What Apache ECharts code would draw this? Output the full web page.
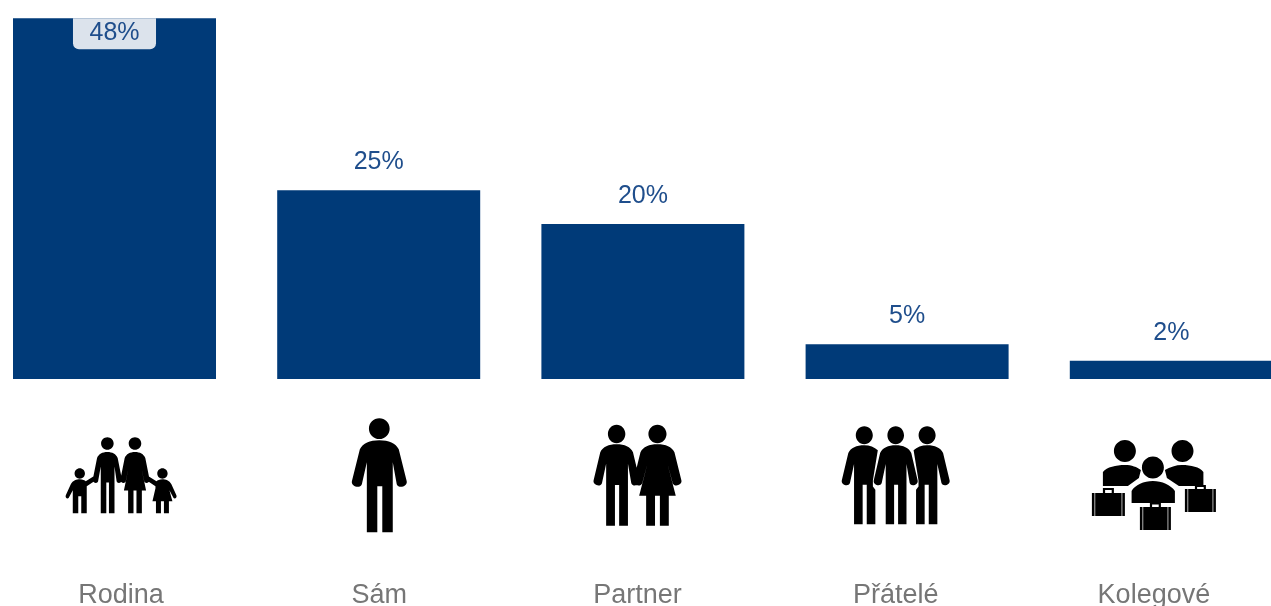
<!DOCTYPE html>
<html><head><meta charset="utf-8">
<style>html,body{margin:0;padding:0;background:#fff}#c{width:1271px;height:606px}</style>
<script src="https://cdn.jsdelivr.net/npm/echarts@6/dist/echarts.min.js"></script>
</head><body><div id="c"></div>
<script>
const categories = ['Rodina','Sám','Partner','Přátelé','Kolegové'];
const barHeights = [47.6, 24.9, 20.45, 4.6, 2.4];
const barLabels = ['48%','25%','20%','5%','2%'];
const iconRows = [0.57, 0.57, 0.57, 0.57, 0.515];

// --- icon outlines (decorative pictograms) ---
const MAN = 'M27.5 22 C37 22 44 25 47 31 L55 63 C56 68 47 71 45 66 L41 44 L41 114 L30.5 114 L30.5 68 L25.5 68 L25.5 114 L15 114 L15 44 L10 66 C8 71 -1 68 0 63 L8 31 C11 25 18 22 27.5 22 Z';
const WOMAN = 'M27.5 22 C37 22 44 25 47 31 L55 63 C56 68 47 71 45 66 L39 44 L48.5 80 L40.5 80 L40.5 114 L30.3 114 L30.3 80 L24.7 80 L24.7 114 L14.5 114 L14.5 80 L6.5 80 L16 44 L10 66 C8 71 -1 68 0 63 L8 31 C11 25 18 22 27.5 22 Z';
const MAN_CUT = 'M27.5 22 C34 22 40 24 44 28 L38 63 L38 70 L41 74 L41 114 L30.5 114 L30.5 68 L25.5 68 L25.5 114 L15 114 L15 44 L10 66 C8 71 -1 68 0 63 L8 31 C11 25 18 22 27.5 22 Z';
const BOY = 'M0 11 C3 11 5 12 6 13 L14 8 L16 12 L7 18 L7 45 L1.5 45 L1.5 28 L-1.5 28 L-1.5 45 L-7 45 L-7 22 L-11 29.5 C-12 31 -15 30 -14 27 L-9 16 C-7 12 -3 11 0 11 Z';
const GIRL = 'M0 11 C3 11 7 12 9 16 L14 27 C15 30 12 31 11 29.5 L7 22 L10 33 L6.5 33 L6.5 45 L1.5 45 L1.5 33 L-1.5 33 L-1.5 45 L-6.5 45 L-6.5 33 L-10 33 L-7 20 L-7 18 L-16 12 L-14 8 L-6 13 C-5 12 -3 11 0 11 Z';
const TORSO_L = 'M11 46 L11 32 C15 27 24 25 33 25 C40 25 45 27 49 30 L47 38 L36 46 Z';
const TORSO_R = 'M73 30 C78 27 84 25 90 25 C99 25 108 27 111.5 32 L111.5 46 L87 46 L75 38 Z';
const TORSO_C = 'M39.7 63 L39.7 51 C43 45 52 41 61 41 C70 41 79 45 83 51 L83 63 Z';

function tf(p, x0, y0, sx, sy) {
  return p.replace(/(-?[\d.]+) (-?[\d.]+)/g, (m, a, b) =>
    (x0 + sx * parseFloat(a)).toFixed(2) + ' ' + (y0 + sy * parseFloat(b)).toFixed(2));
}
function ell(cx, cy, rx, ry) {
  const k = 0.5523, f = v => v.toFixed(2);
  return `M${f(cx)} ${f(cy-ry)} C${f(cx+k*rx)} ${f(cy-ry)} ${f(cx+rx)} ${f(cy-k*ry)} ${f(cx+rx)} ${f(cy)} ` +
    `C${f(cx+rx)} ${f(cy+k*ry)} ${f(cx+k*rx)} ${f(cy+ry)} ${f(cx)} ${f(cy+ry)} ` +
    `C${f(cx-k*rx)} ${f(cy+ry)} ${f(cx-rx)} ${f(cy+k*ry)} ${f(cx-rx)} ${f(cy)} ` +
    `C${f(cx-rx)} ${f(cy-k*ry)} ${f(cx-k*rx)} ${f(cy-ry)} ${f(cx)} ${f(cy-ry)} Z `;
}
function person(shape, x0, y0, sx, sy, headR) {
  const rx = headR || Math.abs(sx) * 10.4, ry = headR || sy * 10.4;
  return ell(x0 + sx * 27.5, y0 + ry, rx, ry) + tf(shape, x0, y0, sx, sy) + ' ';
}
function kid(shape, cx, top) {
  return ell(cx, top + 5.2, 5.2, 5.2) + tf(shape, cx, top, 1, 1) + ' ';
}
function rect(x, y, w, h) {
  return `M${x} ${y} L${x+w} ${y} L${x+w} ${y+h} L${x} ${y+h} Z `;
}
function suitcase(x, y, w, h, top) {
  const c = x + w / 2;
  return rect(x, y, 2.6, h) + rect(x + 3.3, y, w - 6.6, h) + rect(x + w - 2.6, y, 2.6, h) +
    rect(c - 5.5, top, 2.2, y - top) + rect(c + 3.3, top, 2.2, y - top) + rect(c - 5.5, top, 11, 2);
}

const iconFamily = person(MAN, 27, 0, 0.53, 0.667, 6.3) + person(WOMAN, 54.7, 0, 0.53, 0.667, 6.3) +
  kid(BOY, 13.9, 31) + kid(GIRL, 96.8, 31);
const iconAlone = person(MAN, 0, 0, 1, 1);
const iconPartner = person(MAN, 0, 0, 0.84, 0.886) + person(WOMAN, 40, 0, 0.873, 0.886);
const iconFriends = person(MAN_CUT, 0, 0, 0.82, 0.86) + person(MAN, 32, 0, 0.8, 0.86) + person(MAN_CUT, 108, 0, -0.82, 0.86);
const iconColleagues = ell(33, 11, 11, 11) + ell(90.6, 11, 11, 11) + ell(61, 27.7, 11, 11) +
  TORSO_L + ' ' + TORSO_R + ' ' + TORSO_C + ' ' +
  suitcase(0, 53, 33, 23, 48) + suitcase(93, 49, 31, 23, 45) + suitcase(48, 67, 31, 23, 62.5);

const iconPaths = [iconFamily, iconAlone, iconPartner, iconFriends, iconColleagues];
const iconSizes = [[111, 76], [55, 114], [88, 101], [108, 98], [124, 90]];

const chart = echarts.init(document.getElementById('c'), null, {renderer: 'canvas'});
chart.setOption({
  animation: false,
  backgroundColor: '#ffffff',
  textStyle: {fontFamily: '"Liberation Sans", Arial, sans-serif'},
  grid: [
    {left: -17.6, top: 0, width: 1321, height: 379, containLabel: false, outerBoundsMode: 'none'},
    {left: -8, top: 400, width: 1291, height: 175, containLabel: false, outerBoundsMode: 'none'}
  ],
  xAxis: [
    {type: 'category', gridIndex: 0, data: categories, axisLine: {show: false}, axisTick: {show: false}, axisLabel: {show: false}},
    {type: 'category', gridIndex: 1, data: categories, position: 'bottom',
     axisLine: {show: false}, axisTick: {show: false},
     axisLabel: {show: true, interval: 0, color: '#767676', fontSize: 27, margin: 7, fontFamily: '"Liberation Sans", Arial, sans-serif'}}
  ],
  yAxis: [
    {type: 'value', gridIndex: 0, min: 0, max: 50, show: false},
    {type: 'value', gridIndex: 1, min: 0, max: 1, show: false}
  ],
  series: [
    {
      type: 'bar', xAxisIndex: 0, yAxisIndex: 0, barWidth: 203,
      itemStyle: {color: '#003a78'},
      data: barHeights.map((v, i) => ({
        value: v,
        label: i === 0 ? {
          show: true, position: 'insideTop', distance: 0, formatter: barLabels[i],
          color: '#1f4e8c', fontSize: 25, lineHeight: 25,
          backgroundColor: '#dce3ec', borderRadius: [0, 0, 6, 6], padding: [2, 16.5, 4, 16.5]
        } : {
          show: true, position: 'top', distance: 15.5, formatter: barLabels[i],
          color: '#1f4e8c', fontSize: 25, lineHeight: 25
        }
      }))
    },
    {
      type: 'scatter', xAxisIndex: 1, yAxisIndex: 1, silent: true, clip: false,
      itemStyle: {color: '#000000', opacity: 1},
      data: categories.map((c, i) => ({
        value: [c, iconRows[i]],
        symbol: 'path://' + iconPaths[i],
        symbolSize: iconSizes[i],
        symbolKeepAspect: false
      }))
    }
  ]
});
</script></body></html>
